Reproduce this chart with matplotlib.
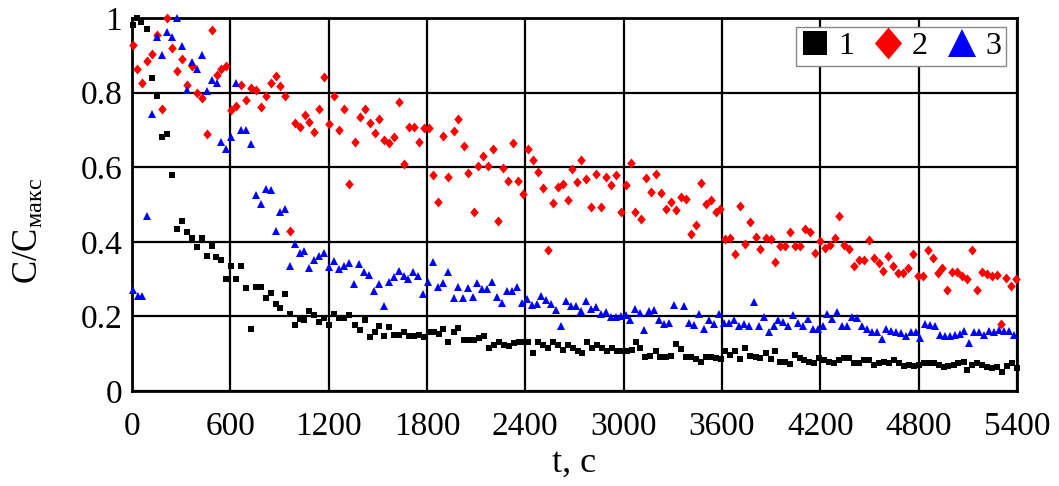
import matplotlib
matplotlib.use("Agg")
import matplotlib.pyplot as plt

plt.rcParams["font.family"] = ["Liberation Serif", "DejaVu Serif"]
plt.rcParams["mathtext.fontset"] = "custom"
plt.rcParams["mathtext.rm"] = "Liberation Serif"
plt.rcParams["mathtext.it"] = "Liberation Serif:italic"

# series 1 (black squares)
t1 = [6, 33, 57, 92, 124, 153, 183, 214, 244, 275, 305, 336, 366, 397, 427, 456, 486, 515, 545, 576,
      606, 635, 665, 696, 724, 755, 785, 816, 846, 877, 905, 936, 964, 995, 1025, 1050, 1081, 1112, 1143, 1173,
      1204, 1235, 1266, 1296, 1327, 1358, 1389, 1419, 1450, 1481, 1507, 1538, 1569, 1599, 1630, 1661, 1692, 1722, 1753, 1784,
      1815, 1845, 1876, 1900, 1931, 1962, 1992, 2023, 2054, 2085, 2115, 2146, 2176, 2207, 2237, 2268, 2298, 2329, 2359, 2390,
      2416, 2447, 2477, 2508, 2538, 2569, 2599, 2630, 2660, 2691, 2721, 2746, 2776, 2807, 2837, 2868, 2898, 2929, 2959, 2990,
      3020, 3051, 3076, 3102, 3133, 3164, 3195, 3225, 3256, 3287, 3317, 3348, 3379, 3410, 3440, 3471, 3502, 3532, 3563, 3594,
      3621, 3651, 3682, 3713, 3743, 3774, 3805, 3835, 3866, 3897, 3921, 3952, 3983, 4014, 4044, 4075, 4101, 4131, 4162, 4192,
      4223, 4253, 4283, 4314, 4344, 4375, 4405, 4436, 4466, 4496, 4527, 4557, 4587, 4618, 4649, 4679, 4709, 4739, 4770, 4800,
      4830, 4861, 4891, 4922, 4952, 4982, 5013, 5043, 5074, 5095, 5125, 5156, 5186, 5217, 5247, 5278, 5308, 5339, 5369, 5400]
c1 = [0.98, 1.0, 0.99, 0.97, 0.84, 0.79, 0.68, 0.69, 0.58, 0.434, 0.456, 0.426, 0.41, 0.386, 0.41, 0.362, 0.39, 0.358, 0.35, 0.30,
      0.334, 0.30, 0.336, 0.277, 0.165, 0.279, 0.279, 0.25, 0.264, 0.232, 0.223, 0.26, 0.207, 0.177, 0.192, 0.19, 0.215, 0.204, 0.184, 0.195,
      0.177, 0.207, 0.195, 0.195, 0.205, 0.177, 0.164, 0.19, 0.146, 0.159, 0.175, 0.148, 0.171, 0.15, 0.15, 0.159, 0.148, 0.148, 0.15, 0.146,
      0.159, 0.157, 0.153, 0.165, 0.131, 0.157, 0.168, 0.137, 0.137, 0.137, 0.141, 0.148, 0.114, 0.123, 0.132, 0.123, 0.121, 0.128, 0.132, 0.13,
      0.132, 0.101, 0.13, 0.123, 0.114, 0.131, 0.123, 0.11, 0.123, 0.114, 0.108, 0.103, 0.131, 0.114, 0.123, 0.114, 0.108, 0.114, 0.108, 0.106,
      0.108, 0.11, 0.132, 0.114, 0.092, 0.094, 0.108, 0.092, 0.092, 0.094, 0.125, 0.112, 0.092, 0.092, 0.085, 0.079, 0.092, 0.092, 0.088, 0.085,
      0.108, 0.097, 0.106, 0.085, 0.114, 0.094, 0.092, 0.088, 0.101, 0.085, 0.106, 0.079, 0.079, 0.072, 0.097, 0.088, 0.083, 0.079, 0.074, 0.088,
      0.083, 0.079, 0.076, 0.083, 0.088, 0.088, 0.074, 0.074, 0.083, 0.083, 0.07, 0.074, 0.079, 0.074, 0.083, 0.074, 0.067, 0.07, 0.067, 0.07,
      0.074, 0.074, 0.074, 0.07, 0.065, 0.067, 0.07, 0.074, 0.079, 0.056, 0.07, 0.076, 0.07, 0.065, 0.061, 0.064, 0.052, 0.067, 0.074, 0.061]

# series 2 (red diamonds)
t2 = [6, 33, 63, 94, 124, 153, 183, 214, 244, 275, 305, 336, 366, 397, 427, 458, 486, 517, 545, 576,
      606, 637, 667, 698, 728, 759, 789, 820, 851, 877, 905, 936, 964, 995, 1025, 1054, 1081, 1112, 1143, 1173,
      1204, 1235, 1266, 1296, 1327, 1358, 1389, 1419, 1450, 1481, 1507, 1538, 1569, 1599, 1630, 1661, 1692, 1722, 1753, 1784,
      1815, 1839, 1870, 1900, 1931, 1962, 1992, 2023, 2050, 2085, 2111, 2142, 2172, 2203, 2233, 2264, 2294, 2323, 2353, 2384,
      2414, 2445, 2475, 2506, 2536, 2567, 2597, 2628, 2658, 2685, 2715, 2742, 2772, 2803, 2833, 2864, 2894, 2925, 2955, 2986,
      3014, 3045, 3071, 3106, 3137, 3168, 3199, 3229, 3260, 3291, 3322, 3348, 3379, 3410, 3440, 3471, 3502, 3532, 3563, 3590,
      3621, 3651, 3682, 3713, 3743, 3774, 3805, 3835, 3866, 3897, 3921, 3952, 3983, 4014, 4044, 4075, 4105, 4135, 4166, 4196,
      4226, 4257, 4287, 4314, 4344, 4375, 4405, 4436, 4466, 4496, 4527, 4557, 4581, 4611, 4642, 4672, 4702, 4733, 4763, 4794,
      4824, 4855, 4885, 4916, 4942, 4972, 5003, 5033, 5063, 5095, 5125, 5156, 5186, 5217, 5247, 5278, 5304, 5335, 5365, 5396]
c2 = [0.928, 0.863, 0.827, 0.884, 0.903, 0.955, 0.757, 1.0, 0.919, 0.859, 0.891, 0.821, 0.872, 0.799, 0.785, 0.69, 0.969, 0.848, 0.863, 0.87,
      0.754, 0.763, 0.821, 0.781, 0.812, 0.808, 0.761, 0.792, 0.826, 0.845, 0.817, 0.792, 0.43, 0.718, 0.707, 0.74, 0.72, 0.693, 0.756, 0.843,
      0.716, 0.79, 0.699, 0.757, 0.555, 0.667, 0.734, 0.757, 0.718, 0.691, 0.73, 0.674, 0.665, 0.681, 0.775, 0.609, 0.707, 0.707, 0.667, 0.705,
      0.705, 0.578, 0.506, 0.684, 0.575, 0.696, 0.73, 0.656, 0.584, 0.479, 0.604, 0.631, 0.604, 0.649, 0.457, 0.599, 0.564, 0.665, 0.562, 0.529,
      0.648, 0.618, 0.586, 0.544, 0.378, 0.505, 0.548, 0.555, 0.513, 0.596, 0.56, 0.618, 0.569, 0.493, 0.582, 0.493, 0.573, 0.551, 0.578, 0.479,
      0.551, 0.611, 0.481, 0.462, 0.571, 0.533, 0.581, 0.532, 0.488, 0.506, 0.486, 0.521, 0.514, 0.421, 0.444, 0.557, 0.502, 0.511, 0.479, 0.487,
      0.407, 0.411, 0.367, 0.497, 0.394, 0.453, 0.414, 0.381, 0.41, 0.408, 0.345, 0.39, 0.39, 0.426, 0.39, 0.39, 0.435, 0.425, 0.371, 0.401,
      0.383, 0.392, 0.411, 0.47, 0.392, 0.381, 0.334, 0.35, 0.352, 0.405, 0.356, 0.343, 0.322, 0.363, 0.335, 0.316, 0.316, 0.331, 0.367, 0.309,
      0.309, 0.378, 0.356, 0.316, 0.329, 0.271, 0.318, 0.318, 0.307, 0.301, 0.378, 0.271, 0.32, 0.313, 0.309, 0.311, 0.179, 0.304, 0.282, 0.301]

# series 3 (blue triangles)
t3 = [6, 37, 63, 94, 124, 153, 183, 214, 244, 275, 305, 336, 366, 397, 427, 458, 486, 517, 545, 576,
      606, 635, 665, 696, 724, 755, 785, 816, 846, 877, 905, 936, 964, 995, 1025, 1050, 1081, 1112, 1143, 1173,
      1204, 1235, 1266, 1296, 1327, 1354, 1384, 1415, 1446, 1476, 1507, 1538, 1569, 1599, 1630, 1661, 1685, 1716, 1747, 1778,
      1808, 1835, 1866, 1900, 1931, 1962, 1992, 2019, 2050, 2079, 2105, 2136, 2166, 2197, 2227, 2258, 2288, 2319, 2349, 2380,
      2410, 2441, 2471, 2498, 2528, 2559, 2589, 2616, 2647, 2677, 2707, 2738, 2768, 2799, 2829, 2860, 2890, 2921, 2951, 2982,
      3012, 3037, 3067, 3098, 3125, 3156, 3186, 3217, 3248, 3279, 3309, 3369, 3399, 3430, 3461, 3492, 3522, 3553, 3580, 3610,
      3641, 3672, 3702, 3733, 3764, 3793, 3823, 3855, 3885, 3915, 3942, 3973, 4004, 4034, 4065, 4095, 4125, 4156, 4186, 4216,
      4241, 4271, 4301, 4332, 4362, 4393, 4423, 4454, 4484, 4514, 4545, 4575, 4601, 4632, 4662, 4693, 4723, 4753, 4784, 4810,
      4841, 4871, 4901, 4932, 4962, 4993, 5023, 5053, 5078, 5109, 5140, 5170, 5201, 5231, 5262, 5292, 5323, 5353, 5380]
c3 = [0.271, 0.255, 0.255, 0.468, 0.743, 0.949, 0.902, 0.962, 0.949, 1.0, 0.924, 0.808, 0.881, 0.864, 0.902, 0.803, 0.835, 0.826, 0.667, 0.648,
      0.682, 0.826, 0.70, 0.699, 0.663, 0.526, 0.501, 0.542, 0.539, 0.43, 0.481, 0.487, 0.335, 0.394, 0.371, 0.374, 0.331, 0.35, 0.363, 0.371,
      0.332, 0.349, 0.327, 0.335, 0.343, 0.287, 0.341, 0.318, 0.311, 0.269, 0.287, 0.229, 0.292, 0.305, 0.323, 0.309, 0.301, 0.32, 0.309, 0.26,
      0.291, 0.347, 0.28, 0.289, 0.318, 0.249, 0.28, 0.249, 0.275, 0.251, 0.289, 0.273, 0.273, 0.291, 0.251, 0.237, 0.267, 0.269, 0.28, 0.235,
      0.246, 0.231, 0.233, 0.255, 0.244, 0.233, 0.217, 0.173, 0.241, 0.229, 0.229, 0.215, 0.241, 0.219, 0.226, 0.207, 0.213, 0.198, 0.199, 0.202,
      0.204, 0.191, 0.22, 0.21, 0.164, 0.215, 0.217, 0.189, 0.179, 0.182, 0.231, 0.228, 0.182, 0.177, 0.207, 0.165, 0.191, 0.179, 0.207, 0.182,
      0.183, 0.189, 0.173, 0.18, 0.173, 0.238, 0.174, 0.199, 0.159, 0.173, 0.191, 0.186, 0.173, 0.204, 0.182, 0.173, 0.192, 0.165, 0.165, 0.174,
      0.206, 0.192, 0.213, 0.173, 0.173, 0.199, 0.195, 0.173, 0.165, 0.159, 0.157, 0.139, 0.165, 0.162, 0.159, 0.155, 0.148, 0.159, 0.159, 0.141,
      0.179, 0.177, 0.174, 0.15, 0.148, 0.148, 0.15, 0.153, 0.162, 0.128, 0.157, 0.157, 0.15, 0.162, 0.159, 0.164, 0.162, 0.162, 0.15]

labels = ["1", "2", "3"]
xticks = [0, 600, 1200, 1800, 2400, 3000, 3600, 4200, 4800, 5400]
yticks = [0, 0.2, 0.4, 0.6, 0.8, 1]
ytick_labels = ["0", "0.2", "0.4", "0.6", "0.8", "1"]

# slightly tall diamond, like the original marker
diamond = [(0, 1), (0.85, 0), (0, -1), (-0.85, 0), (0, 1)]

fig = plt.figure(figsize=(10.59, 4.86), dpi=100)
ax = fig.add_axes([0.1246, 0.1955, 0.8357, 0.7675])

p1, = ax.plot(t1, c1, ls="none", marker="s", ms=4.4, color="black", mew=0, clip_on=False, zorder=3)
p2, = ax.plot(t2, c2, ls="none", marker=diamond, ms=7.2, color="red", mew=0, clip_on=False, zorder=3)
p3, = ax.plot(t3, c3, ls="none", marker="^", ms=6.3, color="blue", mew=0, clip_on=False, zorder=3)

ax.set_xlim(0, 5400)
ax.set_ylim(0, 1)
ax.set_xticks(xticks)
ax.set_yticks(yticks)
ax.set_yticklabels(ytick_labels)
ax.grid(True, color="black", lw=1.6)
ax.set_axisbelow(True)
for s in ax.spines.values():
    s.set_linewidth(2)
ax.tick_params(length=0)
ax.tick_params(axis="y", labelsize=24, pad=7)
ax.tick_params(axis="x", labelsize=24, pad=15)

ax.set_xlabel("t, c", fontsize=26, labelpad=3)
ax.set_ylabel(r"$\mathregular{C/C_{макс}}$", fontsize=25)
ax.yaxis.set_label_coords(-0.097, 0.43)

leg = ax.legend([p1, p2, p3], labels, ncol=3, loc="upper right",
                bbox_to_anchor=(0.988, 0.975), fontsize=23, frameon=True,
                fancybox=False, edgecolor="#888888", framealpha=1,
                handlelength=0.9, handletextpad=0.3, columnspacing=0.6,
                borderpad=0.15, borderaxespad=0)
leg.get_frame().set_linewidth(1)
for h, ms in zip(leg.legend_handles, [17.5, 23, 19.5]):
    h.set_markersize(ms)

fig.savefig("out.png", dpi=100)
